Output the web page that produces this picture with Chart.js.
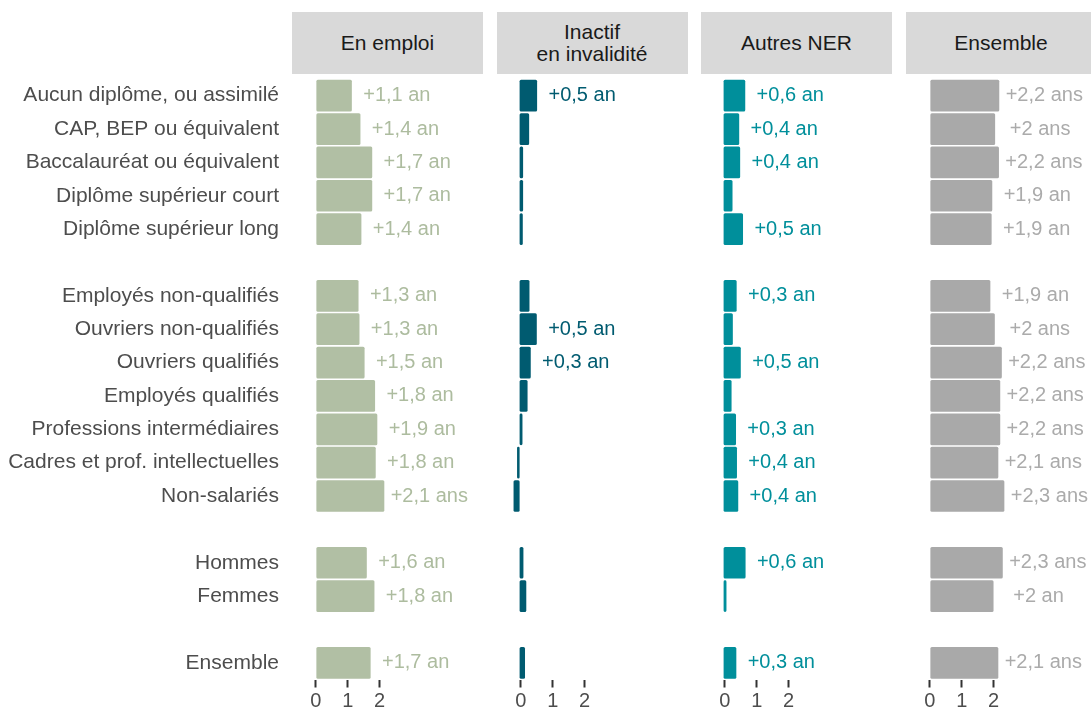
<!DOCTYPE html>
<html>
<head>
<meta charset="utf-8">
<script src="https://cdn.jsdelivr.net/npm/chart.js@4"></script>
<style>
  body { margin:0; background:#fff; font-family:"Liberation Sans", Arial, sans-serif; }
  #wrap { position:relative; width:1091px; height:711px; overflow:hidden; }
  .strip { position:absolute; top:12px; height:62px; width:191px; background:#d9d9d9; color:#1a1a1a;
           font-size:21px; line-height:22.5px; display:flex; align-items:center; justify-content:center; text-align:center; }
  canvas { position:absolute; top:79px; }
</style>
</head>
<body>
<div id="wrap">
  <div class="strip" style="left:292px">En emploi</div>
  <div class="strip" style="left:496.5px">Inactif<br>en invalidité</div>
  <div class="strip" style="left:701px">Autres NER</div>
  <div class="strip" style="left:905.5px">Ensemble</div>
  <canvas id="c1" width="483" height="632" style="left:0px"></canvas>
  <canvas id="c2" width="191" height="632" style="left:496.5px"></canvas>
  <canvas id="c3" width="191" height="632" style="left:701px"></canvas>
  <canvas id="c4" width="191" height="632" style="left:905.5px"></canvas>
</div>
<script>
// rows (empty strings are the gaps between groups)
const categories = ["Aucun diplôme, ou assimilé", "CAP, BEP ou équivalent", "Baccalauréat ou équivalent",
  "Diplôme supérieur court", "Diplôme supérieur long", "",
  "Employés non-qualifiés", "Ouvriers non-qualifiés", "Ouvriers qualifiés", "Employés qualifiés",
  "Professions intermédiaires", "Cadres et prof. intellectuelles", "Non-salariés", "",
  "Hommes", "Femmes", "", "Ensemble"];

const enEmploi = [1.13, 1.40, 1.77, 1.77, 1.43, null, 1.34, 1.37, 1.53, 1.86, 1.93, 1.88, 2.15, null, 1.60, 1.84, null, 1.72];
const enEmploiLabels = ["+1,1 an", "+1,4 an", "+1,7 an", "+1,7 an", "+1,4 an", "", "+1,3 an", "+1,3 an", "+1,5 an",
  "+1,8 an", "+1,9 an", "+1,8 an", "+2,1 ans", "", "+1,6 an", "+1,8 an", "", "+1,7 an"];

const invalidite = [0.51, 0.26, 0.07, 0.07, 0.06, null, 0.27, 0.50, 0.31, 0.21, 0.05, -0.12, -0.23, null, 0.08, 0.17, null, 0.13];
const invaliditeLabels = ["+0,5 an", "", "", "", "", "", "", "+0,5 an", "+0,3 an", "", "", "", "", "", "", "", "", ""];

const autresNer = [0.64, 0.45, 0.48, 0.24, 0.57, null, 0.37, 0.25, 0.50, 0.21, 0.35, 0.38, 0.42, null, 0.65, 0.05, null, 0.36];
const autresNerLabels = ["+0,6 an", "+0,4 an", "+0,4 an", "", "+0,5 an", "", "+0,3 an", "", "+0,5 an", "",
  "+0,3 an", "+0,4 an", "+0,4 an", "", "+0,6 an", "", "", "+0,3 an"];

const ensemble = [2.18, 2.05, 2.17, 1.96, 1.94, null, 1.90, 2.04, 2.26, 2.21, 2.21, 2.15, 2.34, null, 2.29, 2.00, null, 2.15];
const ensembleLabels = ["+2,2 ans", "+2 ans", "+2,2 ans", "+1,9 an", "+1,9 an", "", "+1,9 an", "+2 ans", "+2,2 ans",
  "+2,2 ans", "+2,2 ans", "+2,1 ans", "+2,3 ans", "", "+2,3 ans", "+2 an", "", "+2,1 ans"];

const xTicks = [0, 1, 2];
const font = "'Liberation Sans', Arial, sans-serif";

// value labels, centred a fixed distance to the right of each bar
const valueLabels = {
  id: "valueLabels",
  afterDatasetsDraw(chart, args, opts) {
    const ctx = chart.ctx, xs = chart.scales.x, ys = chart.scales.y;
    const data = chart.data.datasets[0].data;
    ctx.save();
    ctx.font = "20px " + font;
    ctx.fillStyle = opts.color;
    ctx.textAlign = "center";
    ctx.textBaseline = "middle";
    opts.labels.forEach((txt, i) => {
      if (!txt || data[i] == null) return;
      ctx.fillText(txt, xs.getPixelForValue(data[i]) + 45, ys.getPixelForValue(i));
    });
    ctx.restore();
  }
};

function makePanel(id, values, labels, barColor, labelColor, withAxis, base) {
  return new Chart(document.getElementById(id), {
    type: "bar",
    data: { labels: categories, datasets: [{ data: values, backgroundColor: barColor, base: base,
      categoryPercentage: 1, barPercentage: 0.95, borderRadius: 1.5, borderSkipped: false }] },
    options: {
      indexAxis: "y",
      responsive: false,
      animation: false,
      devicePixelRatio: 1,
      layout: { padding: 0 },
      plugins: { legend: { display: false }, tooltip: { enabled: false },
                 valueLabels: { labels: labels, color: labelColor } },
      scales: {
        x: {
          min: -0.75, max: 5.25,
          afterBuildTicks: s => { s.ticks = xTicks.map(v => ({ value: v })); },
          afterFit: s => { s.height = 31.5; s.paddingLeft = 0; s.paddingRight = 0; },
          grid: { display: true, drawOnChartArea: false, drawTicks: true, tickLength: 8, tickColor: "#333", tickWidth: 2 },
          border: { display: false },
          ticks: { color: "#4d4d4d", font: { family: font, size: 20 }, padding: 2, maxRotation: 0, autoSkip: false }
        },
        y: {
          display: withAxis,
          afterFit: s => { s.width = withAxis ? 292 : 0; s.paddingTop = 0; s.paddingBottom = 0; },
          grid: { display: false, drawTicks: false },
          border: { display: false },
          ticks: { color: "#4d4d4d", font: { family: font, size: 21 }, padding: 13, autoSkip: false }
        }
      }
    },
    plugins: [valueLabels]
  });
}

makePanel("c1", enEmploi, enEmploiLabels, "#b1bfa4", "#adbc9f", true, 0);
makePanel("c2", invalidite, invaliditeLabels, "#005b70", "#005b70", false, -0.04);
makePanel("c3", autresNer, autresNerLabels, "#008f9b", "#008f9b", false, -0.04);
makePanel("c4", ensemble, ensembleLabels, "#a9a9a9", "#ababab", false, 0);
</script>
</body>
</html>
